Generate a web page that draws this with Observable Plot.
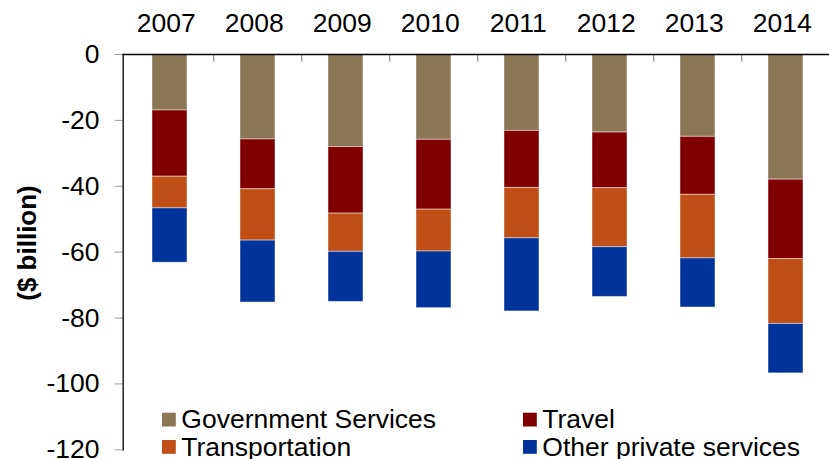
<!DOCTYPE html>
<html>
<head>
<meta charset="utf-8">
<script src="https://cdn.jsdelivr.net/npm/d3@7"></script>
<script src="https://cdn.jsdelivr.net/npm/@observablehq/plot@0.6"></script>
<style>
  html, body { margin: 0; padding: 0; background: #fff; }
  #chart { position: relative; width: 829px; height: 459px; overflow: hidden; }
  svg { font-family: "Liberation Sans", Arial, sans-serif; }
</style>
</head>
<body>
<div id="chart"></div>
<script>
const years = ["2007", "2008", "2009", "2010", "2011", "2012", "2013", "2014"];
const seriesNames = ["Government Services", "Travel", "Transportation", "Other private services"];
const government = [-17.0, -25.8, -28.1, -25.9, -23.2, -23.7, -25.0, -38.0];
const travel = [-20.1, -15.1, -20.2, -21.2, -17.3, -16.9, -17.6, -24.1];
const transportation = [-9.6, -15.6, -11.6, -12.7, -15.3, -17.9, -19.3, -19.7];
const otherPrivate = [-16.5, -18.8, -15.2, -17.2, -22.2, -15.1, -14.9, -15.0];
const yTicks = [0, -20, -40, -60, -80, -100, -120];
const colors = ["#8B7756", "#800000", "#C04F17", "#00349B"];

const seriesValues = [government, travel, transportation, otherPrivate];
const table = [];
seriesValues.forEach((vals, si) => {
  vals.forEach((v, i) => table.push({year: years[i], series: seriesNames[si], value: v}));
});

const W = 829, H = 459;
const mLeft = 122.7, xRight = 832, mTop = 54, yBottom = 449.3;
const step = (xRight - mLeft) / years.length;
const FS = 26.5;

const plot = Plot.plot({
  width: W,
  height: H,
  marginTop: mTop,
  marginLeft: mLeft,
  marginRight: 0,
  marginBottom: H - yBottom,
  style: {fontFamily: '"Liberation Sans", Arial, sans-serif', background: "white", overflow: "visible"},
  x: {domain: years, range: [mLeft, xRight], paddingInner: 0.6, paddingOuter: 0.3, label: null},
  y: {domain: [-120, 0], range: [yBottom, mTop], label: null},
  color: {domain: seriesNames, range: colors},
  marks: [
    Plot.barY(table, {x: "year", y: "value", fill: "series", stroke: "white", strokeOpacity: 0.45, strokeWidth: 1}),
    Plot.axisY({ticks: yTicks, text: null, tickSize: 8, stroke: "#9a9a9a", strokeWidth: 1, label: null}),
    Plot.axisY({ticks: yTicks, tickSize: 0, tickPadding: 23.7, fontSize: FS, fill: "black", label: null, tickFormat: d => String(d)}),
    Plot.axisX({anchor: "top", tickSize: 0, tickPadding: 23, dx: -3.7, fontSize: FS, fill: "black", label: null}),
    Plot.ruleX(years.slice(1), {x: d => d, dx: -step / 2, y1: 0, y2: -2.3, stroke: "#9a9a9a", strokeWidth: 1.3}),
    Plot.frame({anchor: "left", stroke: "black", strokeWidth: 1.3}),
    Plot.frame({anchor: "top", stroke: "black", strokeWidth: 1.3})
  ]
});

document.getElementById("chart").appendChild(plot);
const svg = d3.select(plot);

// y-axis title
svg.append("text")
  .attr("transform", "translate(36,243) rotate(-90)")
  .attr("text-anchor", "middle")
  .attr("font-size", 26)
  .attr("font-weight", "bold")
  .attr("fill", "black")
  .text("($ billion)");

// legend (inside the plot area)
const legendCols = [162, 523];
const legendRows = [412.7, 440];
const sw = 13.8;
const lg = svg.append("g").attr("font-size", FS).attr("text-anchor", "start");
seriesNames.forEach((name, k) => {
  const cx = legendCols[k % 2];
  const ry = legendRows[Math.floor(k / 2)];
  lg.append("rect").attr("x", cx).attr("y", ry).attr("width", sw).attr("height", sw).attr("fill", colors[k]);
  lg.append("text").attr("x", cx + sw + 5.5).attr("y", ry + sw + 1.8).attr("fill", "black").attr("text-anchor", "start").text(name);
});
</script>
</body>
</html>
